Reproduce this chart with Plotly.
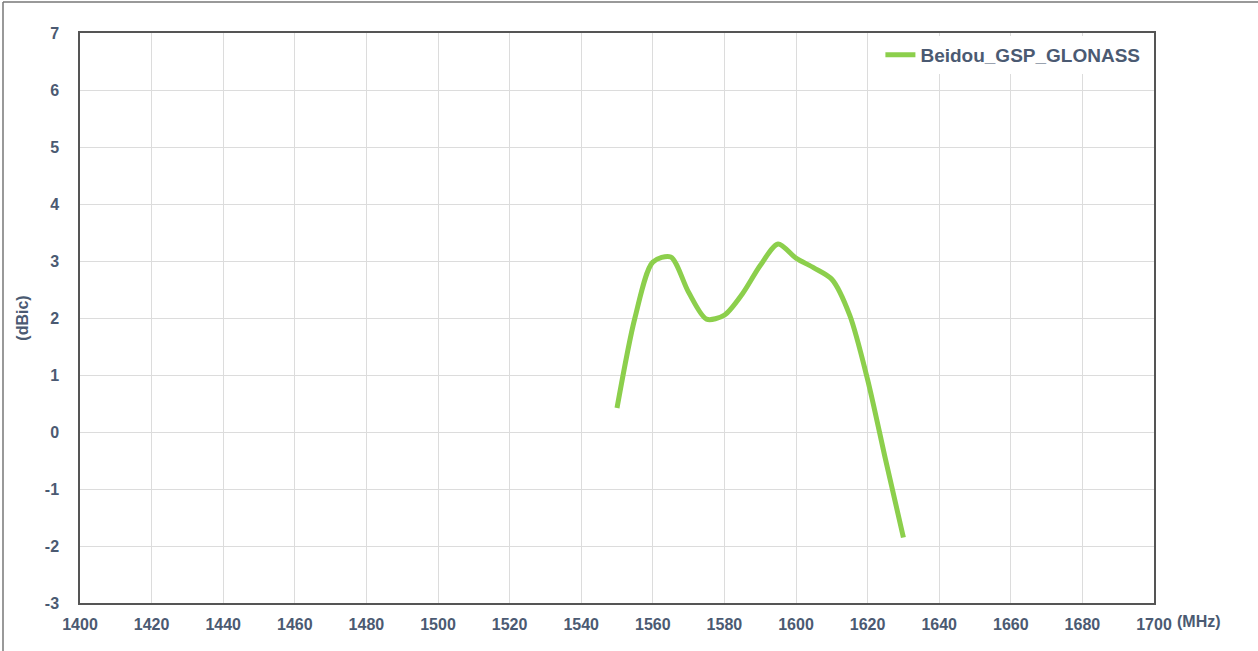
import plotly.graph_objects as go

freq_mhz = [1550, 1555, 1560, 1565, 1570, 1575, 1580, 1585, 1590, 1595, 1600, 1605, 1610, 1615, 1620, 1625, 1630]
gain_dbic = [0.42, 2.0, 2.98, 3.07, 2.45, 1.98, 2.05, 2.42, 2.92, 3.3, 3.05, 2.88, 2.68, 2.05, 0.92, -0.48, -1.85]
series_name = "Beidou_GSP_GLONASS"
x_ticks = list(range(1400, 1701, 20))
y_ticks = list(range(-3, 8, 1))

TXT = "#4b5a72"
FONT = "Liberation Sans, Arial, sans-serif"

fig = go.Figure()
fig.add_trace(go.Scatter(
    x=freq_mhz, y=gain_dbic, mode="lines", name=series_name,
    line=dict(color="#8ccf4c", width=5, shape="spline", smoothing=0.8),
))

L, R, T, B = 80, 1258 - 1154, 33, 651 - 603
pw, ph = 1258 - L - R, 651 - T - B

fig.update_layout(
    width=1258, height=651,
    margin=dict(l=L, r=R, t=T, b=B),
    paper_bgcolor="white", plot_bgcolor="white",
    font=dict(family=FONT, color=TXT, size=16),
    showlegend=True,
    legend=dict(x=0.992, y=0.995, xanchor="right", yanchor="top",
                bgcolor="rgba(255,255,255,1)",
                font=dict(size=19, family=FONT, color=TXT, weight="bold"),
                itemwidth=30),
    xaxis=dict(range=[1400, 1700], tickvals=x_ticks, ticktext=[str(v) for v in x_ticks],
               showgrid=True, gridcolor="#dcdcdc", gridwidth=1,
               showline=True, linecolor="#555555", linewidth=1.5, mirror=True,
               ticks="", zeroline=False, ticklabelstandoff=6,
               tickfont=dict(size=16, family=FONT, color=TXT, weight="bold")),
    yaxis=dict(range=[-3, 7], tickvals=y_ticks, ticktext=[str(v) for v in y_ticks],
               showgrid=True, gridcolor="#dcdcdc", gridwidth=1,
               showline=True, linecolor="#555555", linewidth=1.5, mirror=True,
               ticks="", zeroline=False, ticklabelstandoff=16,
               title=dict(text="(dBic)", standoff=12,
                          font=dict(size=16, family=FONT, color=TXT, weight="bold")),
               tickfont=dict(size=16, family=FONT, color=TXT, weight="bold")),
    annotations=[dict(text="(MHz)", xref="paper", yref="paper",
                      x=(1175 - L) / pw, y=0.0, xanchor="left", yanchor="top",
                      yshift=-8, showarrow=False,
                      font=dict(size=16, family=FONT, color=TXT, weight="bold"))],
    shapes=[
        dict(type="line", xref="paper", yref="paper",
             x0=(3 - L) / pw, x1=(1258 - L) / pw, y0=(651 - B - 2) / ph, y1=(651 - B - 2) / ph,
             line=dict(color="#777777", width=1.5)),
        dict(type="line", xref="paper", yref="paper",
             x0=(3 - L) / pw, x1=(3 - L) / pw, y0=(651 - B - 2) / ph, y1=(651 - B - 651) / ph,
             line=dict(color="#777777", width=1.5)),
    ],
)

fig.write_html("out.html", config={"displayModeBar": False},
               post_script="document.body.style.margin='0';document.body.style.overflow='hidden';")
